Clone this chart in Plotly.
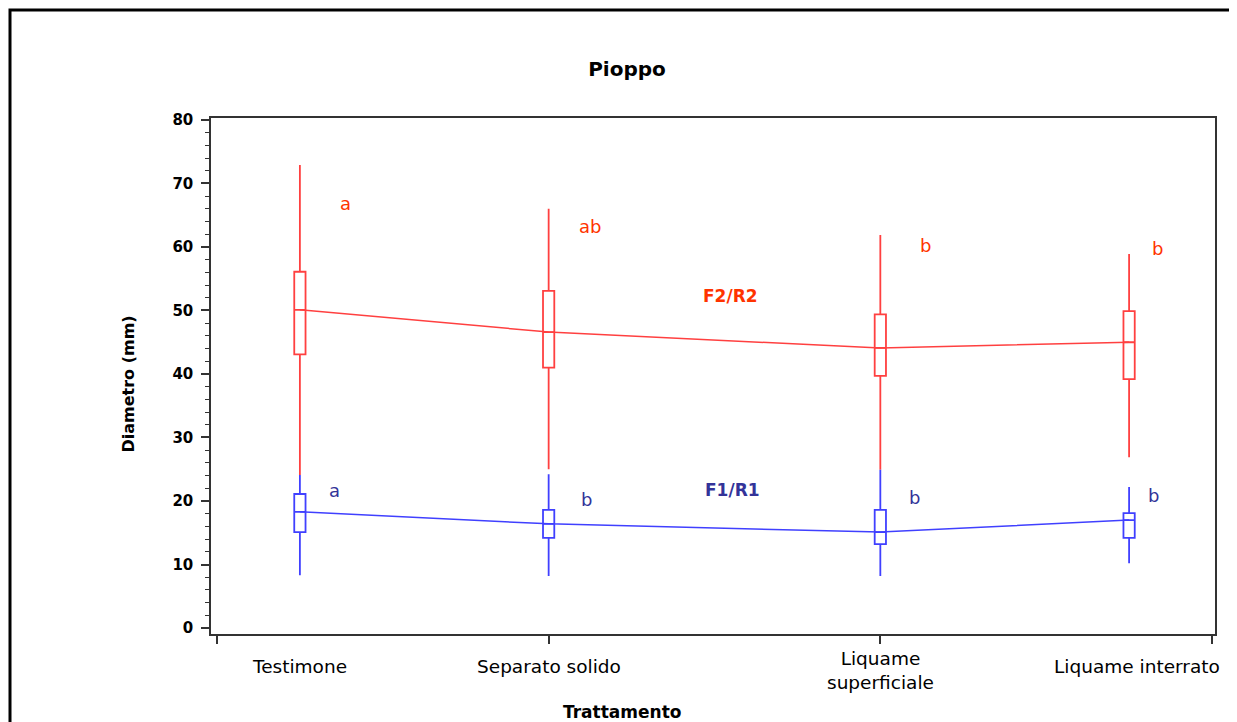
import plotly.graph_objects as go

# ---- data ----
categories = ["Testimone", "Separato solido", "Liquame<br>superficiale", "Liquame interrato"]
x_pos = [0.25, 1.0, 2.0, 2.75]

f2_max = [72.9, 66.0, 61.9, 58.9]
f2_q3 = [56.1, 53.1, 49.4, 49.9]
f2_mid = [50.1, 46.6, 44.1, 45.0]
f2_q1 = [43.1, 41.0, 39.7, 39.2]
f2_min = [24.1, 25.0, 24.9, 26.9]
f2_letters = ["a", "ab", "b", "b"]

f1_max = [24.1, 24.2, 24.9, 22.2]
f1_q3 = [21.1, 18.6, 18.6, 18.1]
f1_mid = [18.3, 16.4, 15.1, 17.0]
f1_q1 = [15.1, 14.2, 13.2, 14.2]
f1_min = [8.3, 8.2, 8.2, 10.2]
f1_letters = ["a", "b", "b", "b"]

y_ticks = [0, 10, 20, 30, 40, 50, 60, 70, 80]

RED = "#FF4040"
BLUE = "#4040FF"
RED_TXT = "#FF3300"
BLUE_TXT = "#333399"
FONT = "DejaVu Sans, Liberation Sans, Arial, sans-serif"

# page offset compensation (browser body margin)
OFF = 8
PLOT_L, PLOT_T, PLOT_W, PLOT_H = 211 - OFF, 118 - OFF, 1004, 516
W, H = 1237, 722

def py_to_paper(py):
    # reference page pixel y -> paper coordinate
    return (PLOT_T + OFF + PLOT_H - py) / PLOT_H

fig = go.Figure()

# red series
fig.add_trace(go.Scatter(x=x_pos, y=f2_mid, mode="lines",
                         line=dict(color=RED, width=1.5), hoverinfo="skip", showlegend=False))
fig.add_trace(go.Box(x=x_pos, q1=f2_q1, median=f2_mid, q3=f2_q3,
                     lowerfence=f2_min, upperfence=f2_max,
                     width=0.034, whiskerwidth=0, boxpoints=False,
                     line=dict(color=RED, width=1.8), fillcolor="rgba(255,255,255,0)",
                     hoverinfo="skip", showlegend=False))
# blue series
fig.add_trace(go.Scatter(x=x_pos, y=f1_mid, mode="lines",
                         line=dict(color=BLUE, width=1.5), hoverinfo="skip", showlegend=False))
fig.add_trace(go.Box(x=x_pos, q1=f1_q1, median=f1_mid, q3=f1_q3,
                     lowerfence=f1_min, upperfence=f1_max,
                     width=0.034, whiskerwidth=0, boxpoints=False,
                     line=dict(color=BLUE, width=1.8), fillcolor="rgba(255,255,255,0)",
                     hoverinfo="skip", showlegend=False))

# significance letters
red_letter_pos = [(0.389, 66.8), (1.124, 63.3), (2.137, 60.3), (2.837, 59.8)]
blue_letter_pos = [(0.353, 21.7), (1.115, 20.2), (2.104, 20.5), (2.825, 20.8)]
for (lx, ly), t in zip(red_letter_pos, f2_letters):
    fig.add_annotation(x=lx, y=ly, text=t, showarrow=False,
                       font=dict(family=FONT, size=18, color=RED_TXT))
for (lx, ly), t in zip(blue_letter_pos, f1_letters):
    fig.add_annotation(x=lx, y=ly, text=t, showarrow=False,
                       font=dict(family=FONT, size=18, color=BLUE_TXT))

fig.add_annotation(x=1.547, y=52.3, text="<b>F2/R2</b>", showarrow=False,
                   font=dict(family=FONT, size=17, color=RED_TXT))
fig.add_annotation(x=1.553, y=21.7, text="<b>F1/R1</b>", showarrow=False,
                   font=dict(family=FONT, size=17, color=BLUE_TXT))

# category labels
for i, (cx, c) in enumerate(zip(x_pos, categories)):
    yc = 670.5 if "<br>" in c else 666
    fig.add_annotation(x=cx, xref="x", y=py_to_paper(yc), yref="paper", yanchor="middle",
                       text=c, showarrow=False, xshift=(8 if i == 3 else 0),
                       font=dict(family=FONT, size=18.5, color="black"))

# axis titles
fig.add_annotation(x=(622 - 211) / PLOT_W, xref="paper", y=py_to_paper(712), yref="paper",
                   yanchor="middle",
                   text="<b>Trattamento</b>", showarrow=False,
                   font=dict(family=FONT, size=17, color="black"))
fig.add_annotation(x=(116 - 211) / PLOT_W, xref="paper", y=py_to_paper(384), yref="paper",
                   textangle=-90,
                   text="<b>Diametro (mm)</b>", showarrow=False,
                   font=dict(family=FONT, size=16, color="black"))

# outer frame
fig.add_shape(type="rect", xref="paper", yref="paper",
              x0=(10 - 211) / PLOT_W, x1=1.05, y0=-0.25, y1=py_to_paper(10),
              line=dict(color="black", width=3), layer="above")

fig.update_layout(
    width=W, height=H,
    margin=dict(l=PLOT_L, r=W - PLOT_L - PLOT_W, t=PLOT_T, b=H - PLOT_T - PLOT_H),
    paper_bgcolor="white", plot_bgcolor="white",
    title=dict(text="<b>Pioppo</b>", x=(627 - 211) / PLOT_W, xref="paper", xanchor="center",
               y=1 - (69 - OFF) / H, yref="container", yanchor="middle",
               font=dict(family=FONT, size=20, color="black")),
    boxmode="overlay",
    xaxis=dict(range=[-0.018, 3.009], tickvals=[0, 1, 2, 3], ticktext=["", "", "", ""],
               ticks="outside", ticklen=8, tickcolor="#333", tickwidth=1.5,
               showline=True, linecolor="#333", linewidth=1.5, mirror=True,
               showgrid=False, zeroline=False),
    yaxis=dict(range=[-0.945, 80.31], tickvals=y_ticks,
               ticks="outside", ticklen=8, tickcolor="#333", tickwidth=1.5,
               ticklabelstandoff=5,
               tickfont=dict(family=FONT, size=15, color="black", weight="bold"),
               minor=dict(dtick=2, ticks="outside", ticklen=4, tickcolor="#333", tickwidth=1.2),
               showline=True, linecolor="#333", linewidth=1.5, mirror=True,
               showgrid=False, zeroline=False),
)

fig.write_html("out.html")
